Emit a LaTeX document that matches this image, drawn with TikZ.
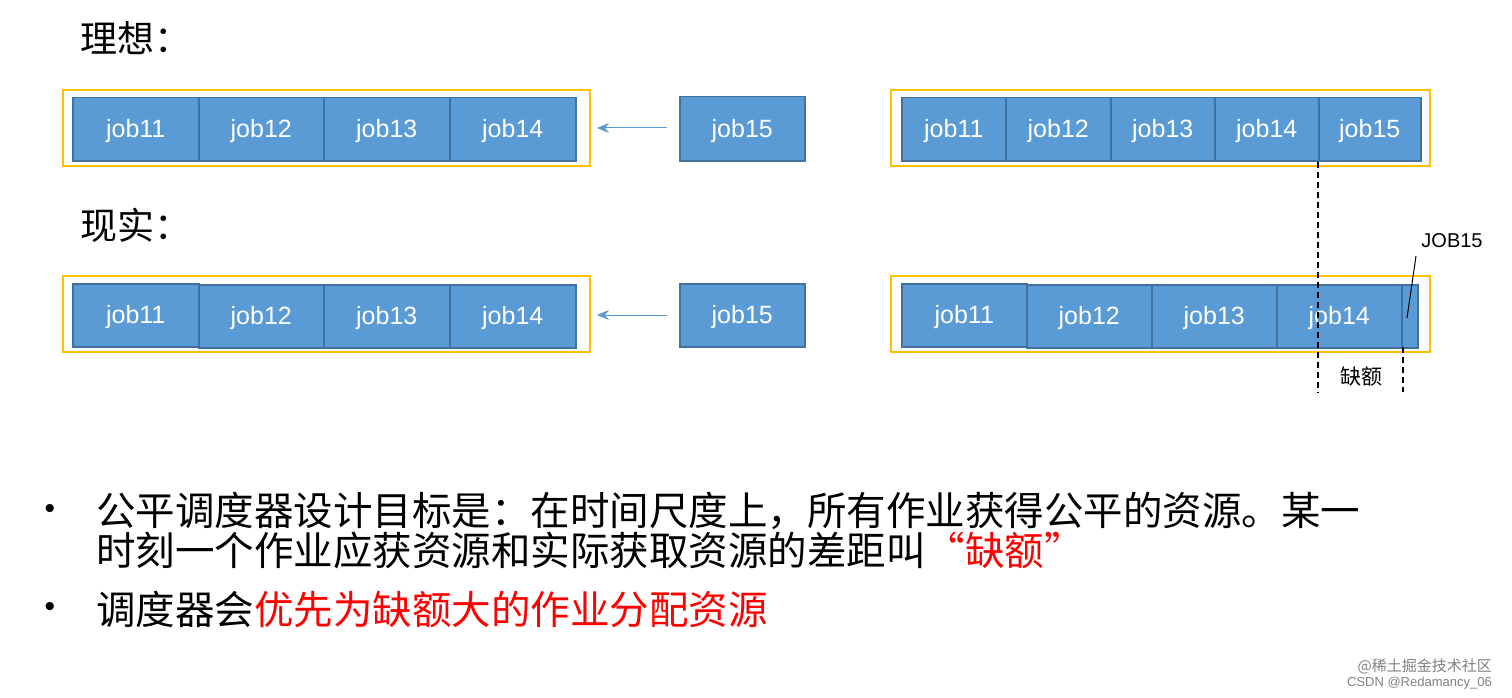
\documentclass[tikz,border=0pt]{standalone}
\usepackage{fontspec}
\setmainfont{Liberation Sans}
\newfontfamily\cjk{Noto Sans CJK SC}
\usetikzlibrary{arrows.meta}
\definecolor{jobfill}{HTML}{5B9BD5}
\definecolor{jobline}{HTML}{41719C}
\definecolor{ybox}{HTML}{FFC000}
\tikzset{
 x=1pt,y=-1pt,
 job/.style={draw=jobline,line width=1.5pt,fill=jobfill,text=white,font=\fontsize{25}{25}\selectfont,inner sep=0,text depth=0pt,text height=17pt,anchor=north west},
 frame/.style={draw=ybox,line width=2.5pt},
 arr/.style={draw=jobfill,line width=1pt,-{Stealth[length=12pt,width=10pt]}},
 dsh/.style={draw=black,line width=1.3pt,dash pattern=on 6pt off 4pt},
 ttl/.style={font=\cjk\fontsize{37}{37}\selectfont,anchor=west,inner sep=0},
 body/.style={font=\cjk\fontsize{39.5}{39.5}\selectfont,anchor=west,inner sep=0},
}
\begin{document}
\begin{tikzpicture}
\useasboundingbox (0,0) rectangle (1512,698);
\node[ttl] (t1) at (80,38) {理想：};
\node[ttl] (t2) at (80,225) {现实：};
% row 1 left
\draw[frame] (63,90) rectangle (590,166);
\node[job,minimum width=126,minimum height=63] (a1) at (72,97) {job11};
\node[job,minimum width=125,minimum height=63] (a2) at (198,97) {job12};
\node[job,minimum width=126,minimum height=63] (a3) at (323,97) {job13};
\node[job,minimum width=126,minimum height=63] (a4) at (449,97) {job14};
\node[job,minimum width=125,minimum height=64] (a5) at (679,96) {job15};
\coordinate (a5w) at (667,128);
\draw[arr] (a5w) -- (597,128);
% row 1 right
\draw[frame] (891,90) rectangle (1430,166);
\node[job,minimum width=104,minimum height=63] (b1) at (901,97) {job11};
\node[job,minimum width=105,minimum height=63] (b2) at (1005,97) {job12};
\node[job,minimum width=104,minimum height=63] (b3) at (1110,97) {job13};
\node[job,minimum width=104,minimum height=63] (b4) at (1214,97) {job14};
\node[job,minimum width=102,minimum height=63] (b5) at (1318,97) {job15};
% row 2 left
\draw[frame] (63,276) rectangle (590,352);
\node[job,minimum width=126,minimum height=63] (c1) at (72,283) {job11};
\node[job,minimum width=125,minimum height=63] (c2) at (198,284) {job12};
\node[job,minimum width=126,minimum height=63] (c3) at (323,284) {job13};
\node[job,minimum width=126,minimum height=63] (c4) at (449,284) {job14};
\node[job,minimum width=125,minimum height=63] (c5) at (679,283) {job15};
\coordinate (c5w) at (667,315);
\draw[arr] (c5w) -- (597,315);
% row 2 right
\draw[frame] (891,276) rectangle (1430,352);
\node[job,minimum width=125,minimum height=63] (d1) at (901,283) {job11};
\node[job,minimum width=125,minimum height=63] (d2) at (1026,284) {job12};
\node[job,minimum width=125,minimum height=63] (d3) at (1151,284) {job13};
\node[job,minimum width=125,minimum height=63] (d4) at (1276,284) {job14};
\node[job,minimum width=16,minimum height=63] (d5) at (1401,284) {};
% dashed
\coordinate (q1) at (1318,392);
\coordinate (q2) at (1403,347);
\coordinate (q3) at (1403,392);
\draw[dsh] (b5.south west) -- (q1);
\draw[dsh] (q2) -- (q3);
\node[font=\cjk\fontsize{21}{21}\selectfont] (qe) at (1361,377) {缺额};
\node[font=\fontsize{20}{20}\selectfont,inner sep=1] (lab) at (1452,241) {JOB15};
\draw[line width=1pt] (1416,256) -- (1407,318);
% bullets
\node[font=\fontsize{30}{30}\selectfont] (p1) at (50,511) {•};
\node[font=\fontsize{30}{30}\selectfont] (p2) at (50,609) {•};
\node[body] (l1) at (96,511) {公平调度器设计目标是：在时间尺度上，所有作业获得公平的资源。某一};
\node[body] (l2) at (96,550) {时刻一个作业应获资源和实际获取资源的差距叫\textcolor{red}{“缺额”}};
\node[body] (l3) at (96,609) {调度器会\textcolor{red}{优先为缺额大的作业分配资源}};
\node[font=\cjk\fontsize{15}{15}\selectfont,text=gray,anchor=east,inner sep=0] (w1) at (1492,666) {@稀土掘金技术社区};
\node[font=\fontsize{13}{13}\selectfont,text=gray,anchor=east,inner sep=0] (w2) at (1492,683) {CSDN @Redamancy\_06};
\end{tikzpicture}
\end{document}
